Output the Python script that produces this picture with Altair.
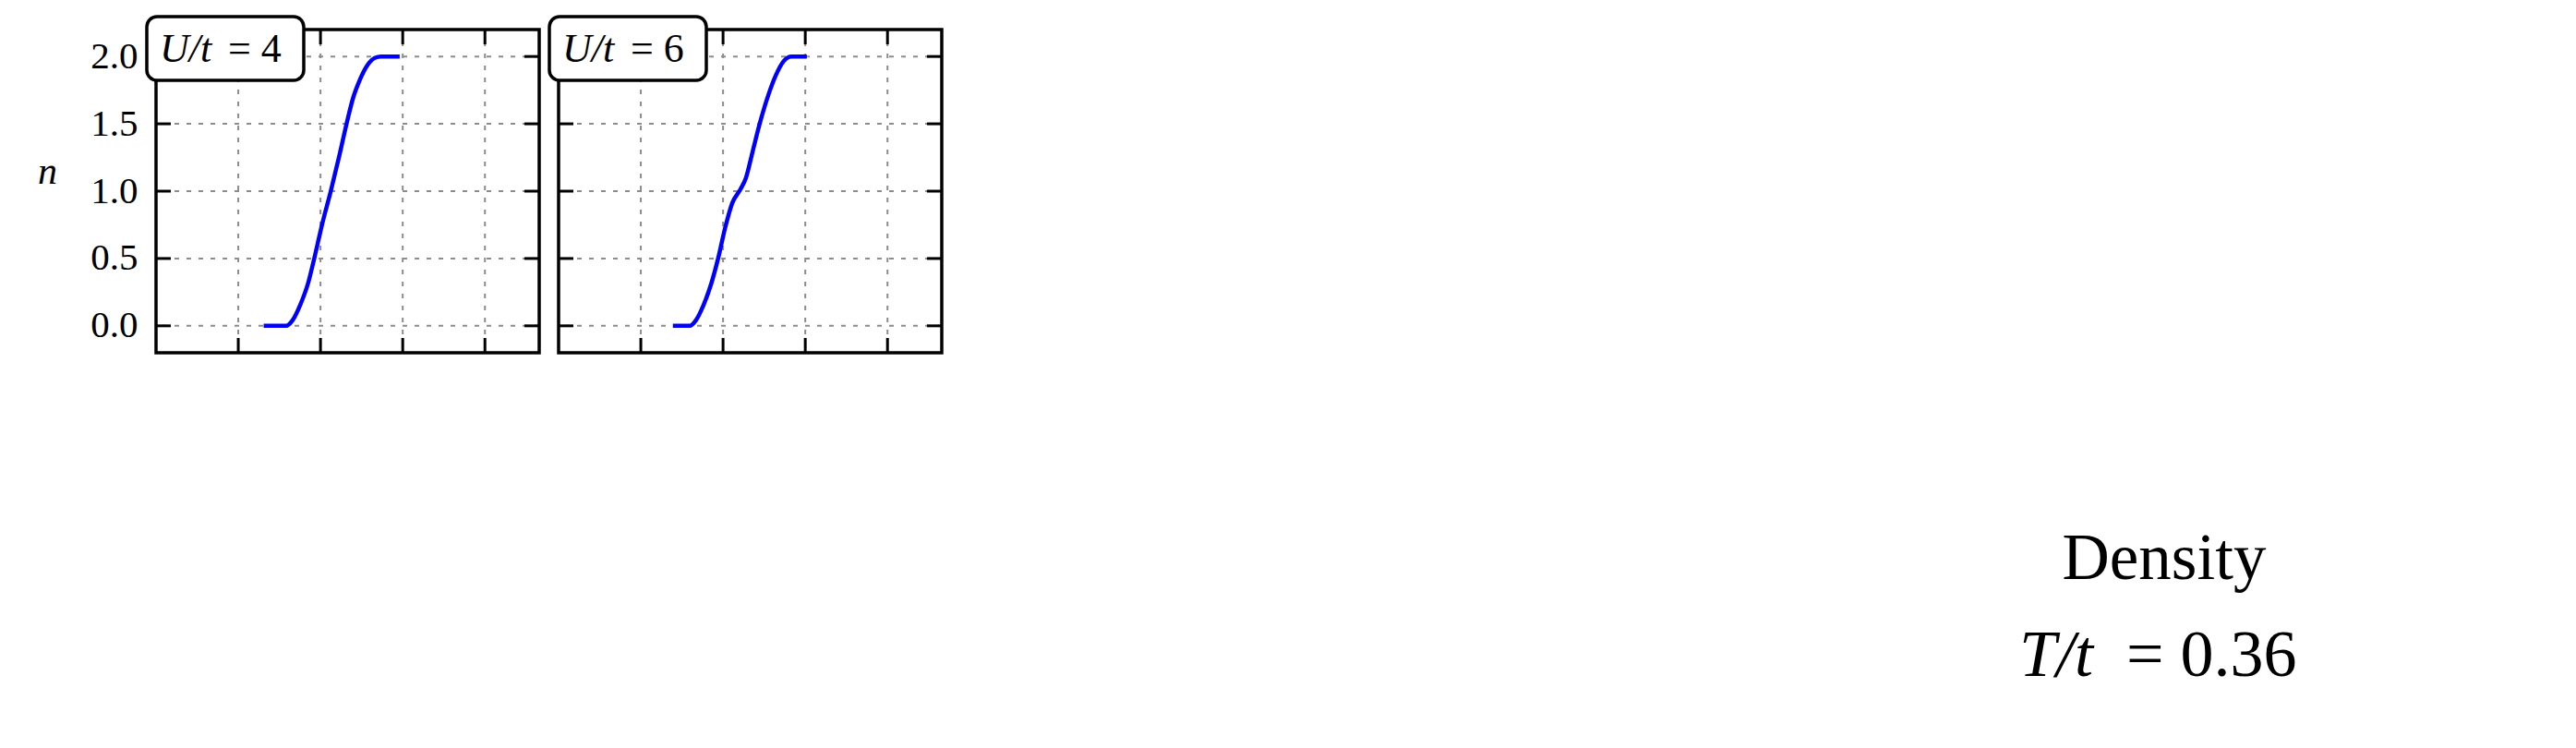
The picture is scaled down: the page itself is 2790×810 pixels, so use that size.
import altair as alt
import pandas as pd

# ---- data ----
x_u4 = [1.309, 1.584, 1.660, 1.754, 1.849, 1.924, 2.019, 2.125, 2.226, 2.320,
        2.396, 2.472, 2.566, 2.660, 2.736, 2.963]
n_u4 = [0.0, 0.0, 0.041, 0.156, 0.316, 0.5, 0.752, 1.0, 1.256, 1.508,
        1.691, 1.817, 1.931, 1.989, 2.0, 2.0]
x_u6 = [1.390, 1.596, 1.670, 1.764, 1.858, 1.940, 2.026, 2.112, 2.213, 2.277,
        2.363, 2.449, 2.551, 2.644, 2.738, 2.831, 3.019]
n_u6 = [0.0, 0.0, 0.041, 0.156, 0.316, 0.5, 0.729, 0.912, 1.015, 1.096,
        1.302, 1.508, 1.714, 1.863, 1.966, 2.0, 2.0]
x_ticks = [1, 2, 3, 4]
y_ticks = [0.0, 0.5, 1.0, 1.5, 2.0]
panel_var = ["U/t", "U/t"]
panel_val = ["= 4", "= 6"]
title_line1 = ["Density"]
title_var = ["T/t"]
title_val = ["= 0.36"]

W, H = 415, 350
FONT = "Liberation Serif"
xs = alt.Scale(domain=[0, 4.66], nice=False, zero=False)
ys = alt.Scale(domain=[-0.2, 2.2], nice=False, zero=False)


def panel(xv, nv, var, val, show_y, extra=None):
    df = pd.DataFrame({"x": xv, "n": nv})
    xt = pd.DataFrame({"x": x_ticks})
    yt = pd.DataFrame({"y": y_ticks})
    one = pd.DataFrame({"var": [var], "val": [val]})
    if show_y:
        yaxis = alt.Axis(values=y_ticks, format=".1f", labelFont=FONT, labelFontSize=41,
                         labelColor="black", ticks=False, tickSize=0, domain=False,
                         grid=False, labelPadding=20, title="n", titleFont=FONT,
                         titleFontStyle="italic", titleFontWeight="normal",
                         titleFontSize=42, titleAngle=0, titleAlign="center",
                         titleBaseline="alphabetic", titleX=-118, titleY=166,
                         titleColor="black")
    else:
        yaxis = None
    X = lambda f: alt.X(f, type="quantitative", scale=xs, axis=None)
    Y = lambda f: alt.Y(f, type="quantitative", scale=ys, axis=yaxis)

    grid_style = dict(color="#8c8c8c", strokeWidth=2, strokeDash=[5, 8])
    vgrid = alt.Chart(xt).mark_rule(**grid_style).encode(x=X("x"))
    hgrid = alt.Chart(yt).mark_rule(**grid_style).encode(y=Y("y"))
    line = alt.Chart(df).mark_line(color="#0000ff", strokeWidth=4.5,
                                   interpolate="monotone").encode(x=X("x"), y=Y("n"))
    tick_style = dict(color="black", strokeWidth=3)
    tb = alt.Chart(xt).mark_rule(**tick_style).encode(x=X("x"), y=alt.value(H), y2=alt.value(H - 16))
    tt = alt.Chart(xt).mark_rule(**tick_style).encode(x=X("x"), y=alt.value(0), y2=alt.value(16))
    tl = alt.Chart(yt).mark_rule(**tick_style).encode(y=Y("y"), x=alt.value(0), x2=alt.value(16))
    tr = alt.Chart(yt).mark_rule(**tick_style).encode(y=Y("y"), x=alt.value(W), x2=alt.value(W - 16))
    frame = alt.Chart(one).mark_rect(fill=None, fillOpacity=0, stroke="black", strokeWidth=3.5).encode(
        x=alt.value(0), x2=alt.value(W), y=alt.value(0), y2=alt.value(H))
    box = alt.Chart(one).mark_rect(fill="white", stroke="black", strokeWidth=3.5, cornerRadius=11).encode(
        x=alt.value(-10), x2=alt.value(160), y=alt.value(-14), y2=alt.value(55))
    t_var = alt.Chart(one).mark_text(align="left", baseline="alphabetic", font=FONT,
                                     fontStyle="italic", fontSize=44, color="black").encode(
        x=alt.value(4), y=alt.value(35), text="var:N")
    t_val = alt.Chart(one).mark_text(align="left", baseline="alphabetic", font=FONT,
                                     fontSize=44, color="black").encode(
        x=alt.value(78), y=alt.value(35), text="val:N")
    layers = [vgrid, hgrid, line, tb, tt, tl, tr, frame, box, t_var, t_val]
    if extra:
        layers += extra
    return alt.layer(*layers).properties(width=W, height=H)


tdf1 = pd.DataFrame({"t": title_line1})
tdf2 = pd.DataFrame({"var": title_var, "val": title_val})
d1 = alt.Chart(tdf1).mark_text(align="center", baseline="alphabetic", font=FONT, fontSize=71,
                               color="black").encode(x=alt.value(1739), y=alt.value(595), text="t:N")
d2 = alt.Chart(tdf2).mark_text(align="left", baseline="alphabetic", font=FONT, fontSize=72,
                               fontStyle="italic", color="black").encode(
    x=alt.value(1582), y=alt.value(700), text="var:N")
d3 = alt.Chart(tdf2).mark_text(align="left", baseline="alphabetic", font=FONT, fontSize=72,
                               color="black").encode(
    x=alt.value(1698), y=alt.value(700), text="val:N")

p1 = panel(x_u4, n_u4, panel_var[0], panel_val[0], True)
p2 = panel(x_u6, n_u6, panel_var[1], panel_val[1], False, extra=[d1, d2, d3])

chart = alt.hconcat(p1, p2, spacing=21, bounds="flush").configure_view(stroke=None).properties(
    padding={"left": 32, "top": 8, "right": 5, "bottom": 5})

chart.save("out.html", embed_options={"renderer": "svg", "actions": False})
